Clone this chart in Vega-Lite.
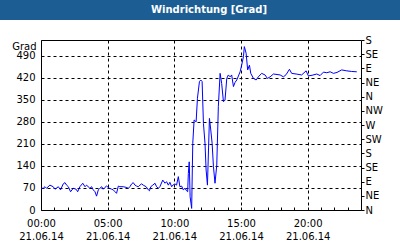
{
  "$schema": "https://vega.github.io/schema/vega-lite/v6.json",
  "background": "white",
  "padding": 0,
  "columns": 1,
  "bounds": "flush",
  "center": true,
  "spacing": 20,
  "config": {
    "axis": {"labelFont": "DejaVu Sans", "labelFontSize": 10, "labelColor": "black", "titleFont": "DejaVu Sans", "titleFontSize": 10, "titleColor": "black", "titleFontWeight": "normal"}
  },
  "concat": [
    {
      "width": 402,
      "height": 20,
      "view": {"fill": "#1c5e94", "stroke": null},
      "data": {"values": [{"title": "Windrichtung [Grad]"}]},
      "mark": {"type": "text", "color": "white", "font": "DejaVu Sans", "fontSize": 10, "fontWeight": "bold", "dx": 8, "baseline": "middle"},
      "encoding": {"text": {"field": "title", "type": "nominal"}}
    },
    {
      "width": 320,
      "height": 170,
      "view": {"stroke": "black", "strokeWidth": 1},
      "data": {"values": [
        {"time": "2014-06-21T00:00", "deg": 69}, {"time": "2014-06-21T00:10", "deg": 69}, {"time": "2014-06-21T00:18", "deg": 74}, {"time": "2014-06-21T00:25", "deg": 69},
        {"time": "2014-06-21T00:40", "deg": 79}, {"time": "2014-06-21T00:55", "deg": 74}, {"time": "2014-06-21T01:03", "deg": 66}, {"time": "2014-06-21T01:18", "deg": 74},
        {"time": "2014-06-21T01:28", "deg": 64}, {"time": "2014-06-21T01:40", "deg": 83}, {"time": "2014-06-21T01:48", "deg": 87}, {"time": "2014-06-21T01:55", "deg": 79},
        {"time": "2014-06-21T02:03", "deg": 74}, {"time": "2014-06-21T02:13", "deg": 58}, {"time": "2014-06-21T02:25", "deg": 69}, {"time": "2014-06-21T02:38", "deg": 66},
        {"time": "2014-06-21T02:45", "deg": 58}, {"time": "2014-06-21T02:55", "deg": 74}, {"time": "2014-06-21T03:08", "deg": 85}, {"time": "2014-06-21T03:18", "deg": 74},
        {"time": "2014-06-21T03:25", "deg": 79}, {"time": "2014-06-21T03:40", "deg": 69}, {"time": "2014-06-21T03:48", "deg": 74}, {"time": "2014-06-21T03:55", "deg": 64},
        {"time": "2014-06-21T04:03", "deg": 58}, {"time": "2014-06-21T04:10", "deg": 44}, {"time": "2014-06-21T04:18", "deg": 64}, {"time": "2014-06-21T04:25", "deg": 69},
        {"time": "2014-06-21T04:33", "deg": 74}, {"time": "2014-06-21T04:40", "deg": 66}, {"time": "2014-06-21T04:48", "deg": 72}, {"time": "2014-06-21T04:55", "deg": 76},
        {"time": "2014-06-21T05:08", "deg": 69}, {"time": "2014-06-21T05:18", "deg": 66}, {"time": "2014-06-21T05:25", "deg": 64}, {"time": "2014-06-21T05:33", "deg": 58},
        {"time": "2014-06-21T05:40", "deg": 53}, {"time": "2014-06-21T05:48", "deg": 76}, {"time": "2014-06-21T05:55", "deg": 74}, {"time": "2014-06-21T06:10", "deg": 74},
        {"time": "2014-06-21T06:23", "deg": 72}, {"time": "2014-06-21T06:33", "deg": 69}, {"time": "2014-06-21T06:40", "deg": 74}, {"time": "2014-06-21T06:48", "deg": 83},
        {"time": "2014-06-21T06:55", "deg": 87}, {"time": "2014-06-21T07:03", "deg": 79}, {"time": "2014-06-21T07:10", "deg": 76}, {"time": "2014-06-21T07:18", "deg": 74},
        {"time": "2014-06-21T07:25", "deg": 79}, {"time": "2014-06-21T07:33", "deg": 83}, {"time": "2014-06-21T07:40", "deg": 79}, {"time": "2014-06-21T07:53", "deg": 74},
        {"time": "2014-06-21T08:03", "deg": 64}, {"time": "2014-06-21T08:08", "deg": 61}, {"time": "2014-06-21T08:14", "deg": 74}, {"time": "2014-06-21T08:23", "deg": 79},
        {"time": "2014-06-21T08:33", "deg": 85}, {"time": "2014-06-21T08:40", "deg": 74}, {"time": "2014-06-21T08:48", "deg": 69}, {"time": "2014-06-21T08:55", "deg": 74},
        {"time": "2014-06-21T09:08", "deg": 95}, {"time": "2014-06-21T09:18", "deg": 85}, {"time": "2014-06-21T09:25", "deg": 90}, {"time": "2014-06-21T09:33", "deg": 79},
        {"time": "2014-06-21T09:40", "deg": 88}, {"time": "2014-06-21T09:48", "deg": 74}, {"time": "2014-06-21T09:55", "deg": 80}, {"time": "2014-06-21T10:03", "deg": 83},
        {"time": "2014-06-21T10:10", "deg": 79}, {"time": "2014-06-21T10:18", "deg": 106}, {"time": "2014-06-21T10:25", "deg": 74}, {"time": "2014-06-21T10:33", "deg": 76},
        {"time": "2014-06-21T10:40", "deg": 64}, {"time": "2014-06-21T10:48", "deg": 69}, {"time": "2014-06-21T10:55", "deg": 61}, {"time": "2014-06-21T11:00", "deg": 58},
        {"time": "2014-06-21T11:03", "deg": 116}, {"time": "2014-06-21T11:07", "deg": 153}, {"time": "2014-06-21T11:11", "deg": 42}, {"time": "2014-06-21T11:18", "deg": 5},
        {"time": "2014-06-21T11:23", "deg": 212}, {"time": "2014-06-21T11:29", "deg": 286}, {"time": "2014-06-21T11:38", "deg": 280}, {"time": "2014-06-21T11:44", "deg": 355},
        {"time": "2014-06-21T11:53", "deg": 408}, {"time": "2014-06-21T11:59", "deg": 413}, {"time": "2014-06-21T12:05", "deg": 408}, {"time": "2014-06-21T12:11", "deg": 275},
        {"time": "2014-06-21T12:18", "deg": 212}, {"time": "2014-06-21T12:23", "deg": 127}, {"time": "2014-06-21T12:29", "deg": 79}, {"time": "2014-06-21T12:38", "deg": 291},
        {"time": "2014-06-21T12:44", "deg": 254}, {"time": "2014-06-21T12:50", "deg": 212}, {"time": "2014-06-21T12:56", "deg": 138}, {"time": "2014-06-21T13:03", "deg": 85},
        {"time": "2014-06-21T13:11", "deg": 143}, {"time": "2014-06-21T13:18", "deg": 328}, {"time": "2014-06-21T13:26", "deg": 434}, {"time": "2014-06-21T13:33", "deg": 402},
        {"time": "2014-06-21T13:41", "deg": 344}, {"time": "2014-06-21T13:48", "deg": 349}, {"time": "2014-06-21T13:56", "deg": 418}, {"time": "2014-06-21T14:03", "deg": 429},
        {"time": "2014-06-21T14:11", "deg": 423}, {"time": "2014-06-21T14:18", "deg": 429}, {"time": "2014-06-21T14:26", "deg": 392}, {"time": "2014-06-21T14:33", "deg": 405},
        {"time": "2014-06-21T14:41", "deg": 413}, {"time": "2014-06-21T14:56", "deg": 439}, {"time": "2014-06-21T15:03", "deg": 460}, {"time": "2014-06-21T15:11", "deg": 487},
        {"time": "2014-06-21T15:15", "deg": 519}, {"time": "2014-06-21T15:23", "deg": 498}, {"time": "2014-06-21T15:30", "deg": 445}, {"time": "2014-06-21T15:38", "deg": 460},
        {"time": "2014-06-21T15:44", "deg": 434}, {"time": "2014-06-21T15:56", "deg": 418}, {"time": "2014-06-21T16:08", "deg": 413}, {"time": "2014-06-21T16:18", "deg": 423},
        {"time": "2014-06-21T16:33", "deg": 434}, {"time": "2014-06-21T16:48", "deg": 429}, {"time": "2014-06-21T16:59", "deg": 418}, {"time": "2014-06-21T17:11", "deg": 423},
        {"time": "2014-06-21T17:26", "deg": 432}, {"time": "2014-06-21T17:56", "deg": 429}, {"time": "2014-06-21T18:11", "deg": 423}, {"time": "2014-06-21T18:23", "deg": 430},
        {"time": "2014-06-21T18:38", "deg": 447}, {"time": "2014-06-21T18:48", "deg": 434}, {"time": "2014-06-21T19:08", "deg": 432}, {"time": "2014-06-21T19:33", "deg": 429},
        {"time": "2014-06-21T19:53", "deg": 442}, {"time": "2014-06-21T20:03", "deg": 426}, {"time": "2014-06-21T20:20", "deg": 428}, {"time": "2014-06-21T20:41", "deg": 432},
        {"time": "2014-06-21T20:56", "deg": 427}, {"time": "2014-06-21T21:11", "deg": 438}, {"time": "2014-06-21T21:26", "deg": 436}, {"time": "2014-06-21T21:41", "deg": 439},
        {"time": "2014-06-21T21:56", "deg": 434}, {"time": "2014-06-21T22:12", "deg": 437}, {"time": "2014-06-21T22:33", "deg": 445}, {"time": "2014-06-21T22:56", "deg": 442},
        {"time": "2014-06-21T23:18", "deg": 440}, {"time": "2014-06-21T23:41", "deg": 439}
      ]},
      "layer": [
        {
          "mark": {"type": "line", "color": "#0000ff", "strokeWidth": 1},
          "encoding": {
            "x": {
              "field": "time", "type": "temporal",
              "scale": {"domain": [{"year": 2014, "month": 6, "date": 21, "hours": 0}, {"year": 2014, "month": 6, "date": 22, "hours": 0}], "nice": false},
              "axis": {
                "orient": "bottom", "title": null, "domain": false, "ticks": false,
                "values": [{"year": 2014, "month": 6, "date": 21, "hours": 0}, {"year": 2014, "month": 6, "date": 21, "hours": 5}, {"year": 2014, "month": 6, "date": 21, "hours": 10}, {"year": 2014, "month": 6, "date": 21, "hours": 15}, {"year": 2014, "month": 6, "date": 21, "hours": 20}],
                "format": "%H:%M", "labelFlush": false, "labelOverlap": false, "labelPadding": 8, "labelBaseline": "top",
                "grid": true, "gridColor": "black", "gridDash": [3, 3]
              }
            },
            "y": {
              "field": "deg", "type": "quantitative",
              "scale": {"domain": [0, 540], "nice": false},
              "axis": {
                "orient": "left", "values": [0, 70, 140, 210, 280, 350, 420, 490],
                "title": "Grad", "titleAngle": 0, "titleAlign": "right", "titleBaseline": "middle", "titleX": -5, "titleY": 6,
                "ticks": false, "domain": false, "labelPadding": 6,
                "grid": true, "gridColor": "black", "gridDash": [3, 3]
              }
            }
          }
        },
        {
          "mark": {"type": "line", "opacity": 0},
          "encoding": {
            "x": {
              "field": "time", "type": "temporal",
              "scale": {"domain": [{"year": 2014, "month": 6, "date": 21, "hours": 0}, {"year": 2014, "month": 6, "date": 22, "hours": 0}], "nice": false},
              "axis": {
                "orient": "bottom", "title": null, "domain": false, "ticks": false, "grid": false,
                "values": [{"year": 2014, "month": 6, "date": 21, "hours": 0}, {"year": 2014, "month": 6, "date": 21, "hours": 5}, {"year": 2014, "month": 6, "date": 21, "hours": 10}, {"year": 2014, "month": 6, "date": 21, "hours": 15}, {"year": 2014, "month": 6, "date": 21, "hours": 20}],
                "format": "%d.%m.%y", "labelFlush": false, "labelOverlap": false, "labelPadding": 21, "labelBaseline": "top"
              }
            },
            "y": {
              "field": "deg", "type": "quantitative",
              "scale": {"domain": [0, 540], "nice": false},
              "axis": {
                "orient": "right", "values": [0, 45, 90, 135, 180, 225, 270, 315, 360, 405, 450, 495, 540],
                "labelExpr": "['N','NE','E','SE','S','SW','W','NW'][(datum.value / 45) % 8]",
                "title": null, "grid": false, "domain": false, "tickSize": 3, "tickColor": "black", "labelPadding": 1
              }
            }
          }
        },
        {
          "mark": {"type": "line", "opacity": 0},
          "encoding": {
            "x": {
              "field": "time", "type": "temporal",
              "scale": {"domain": [{"year": 2014, "month": 6, "date": 21, "hours": 0}, {"year": 2014, "month": 6, "date": 22, "hours": 0}], "nice": false},
              "axis": {
                "orient": "bottom", "title": null, "domain": false, "labels": false, "grid": false,
                "values": [{"year": 2014, "month": 6, "date": 21, "hours": 1}, {"year": 2014, "month": 6, "date": 21, "hours": 2}, {"year": 2014, "month": 6, "date": 21, "hours": 3}, {"year": 2014, "month": 6, "date": 21, "hours": 4}, {"year": 2014, "month": 6, "date": 21, "hours": 5}, {"year": 2014, "month": 6, "date": 21, "hours": 6}, {"year": 2014, "month": 6, "date": 21, "hours": 7}, {"year": 2014, "month": 6, "date": 21, "hours": 8}, {"year": 2014, "month": 6, "date": 21, "hours": 9}, {"year": 2014, "month": 6, "date": 21, "hours": 10}, {"year": 2014, "month": 6, "date": 21, "hours": 11}, {"year": 2014, "month": 6, "date": 21, "hours": 12}, {"year": 2014, "month": 6, "date": 21, "hours": 13}, {"year": 2014, "month": 6, "date": 21, "hours": 14}, {"year": 2014, "month": 6, "date": 21, "hours": 15}, {"year": 2014, "month": 6, "date": 21, "hours": 16}, {"year": 2014, "month": 6, "date": 21, "hours": 17}, {"year": 2014, "month": 6, "date": 21, "hours": 18}, {"year": 2014, "month": 6, "date": 21, "hours": 19}, {"year": 2014, "month": 6, "date": 21, "hours": 20}, {"year": 2014, "month": 6, "date": 21, "hours": 21}, {"year": 2014, "month": 6, "date": 21, "hours": 22}, {"year": 2014, "month": 6, "date": 21, "hours": 23}],
                "tickSize": 3, "tickColor": "black", "offset": -3
              }
            },
            "y": {
              "field": "deg", "type": "quantitative",
              "scale": {"domain": [0, 540], "nice": false},
              "axis": null
            }
          }
        }
      ],
      "resolve": {"scale": {"x": "independent", "y": "independent"}, "axis": {"x": "independent", "y": "independent"}}
    }
  ]
}
